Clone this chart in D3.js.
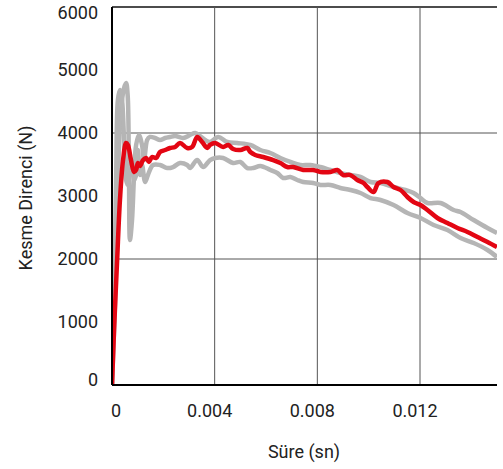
<!DOCTYPE html>
<html><head><meta charset="utf-8">
<script src="https://cdn.jsdelivr.net/npm/d3@7"></script>
<style>
html,body{margin:0;padding:0;background:#fff;}
svg{display:block;}
text{font-family:Roboto,"DejaVu Sans",sans-serif;fill:#222;}
</style></head>
<body><svg id="c" width="503" height="469"></svg>
<script>
// Time (s) and shear force (N)
const redT = [0,0.00008,0.0002,0.00031,0.00043,0.00055,0.00062,0.00074,0.00086,0.00094,0.00101,0.00109,0.00121,0.00133,0.00144,0.00156,0.00172,0.00187,0.00207,0.00226,0.00246,0.00265,0.00293,0.00312,0.00332,0.00351,0.00371,0.00382,0.00402,0.00433,0.00453,0.00472,0.005,0.00527,0.00539,0.00558,0.00589,0.00628,0.00656,0.00683,0.00706,0.00745,0.00784,0.00812,0.00851,0.00878,0.00901,0.00929,0.00956,0.0098,0.00995,0.01019,0.01038,0.01073,0.01097,0.01124,0.01151,0.01175,0.01202,0.01229,0.01268,0.01307,0.01346,0.01385,0.01424,0.01463,0.015];
const redV = [0,873,1984,2937,3571,3841,3810,3571,3381,3413,3524,3476,3571,3603,3540,3619,3603,3698,3730,3762,3778,3841,3762,3778,3937,3857,3762,3810,3841,3778,3810,3746,3730,3762,3698,3651,3619,3571,3524,3460,3460,3413,3413,3381,3381,3413,3333,3333,3254,3206,3143,3063,3206,3222,3143,3095,2984,2905,2857,2778,2651,2571,2492,2429,2349,2270,2190];

const g1T = [0,0.00012,0.00023,0.00035,0.00047,0.00055,0.00061,0.00066,0.0007,0.00078,0.00086,0.00094,0.00105,0.00117,0.00125,0.00137,0.00148,0.00168,0.00187,0.00207,0.00226,0.00246,0.00277,0.00304,0.00324,0.00343,0.00363,0.00382,0.00414,0.00449,0.00488,0.00539,0.00578,0.00617,0.00656,0.00695,0.00734,0.00773,0.00812,0.00851,0.0089,0.00929,0.00968,0.01007,0.01046,0.01097,0.01143,0.01175,0.01202,0.01229,0.0128,0.01331,0.01358,0.01409,0.01463,0.015];
const g1V = [0,1349,3254,4365,4714,4794,4603,3413,2302,2619,3333,3810,3968,3810,3571,3889,3937,3921,3889,3921,3937,3952,3921,3968,4000,3952,3889,3857,3937,3857,3841,3810,3730,3683,3603,3540,3492,3492,3460,3413,3365,3333,3302,3222,3206,3143,3095,3048,2968,2889,2889,2778,2746,2619,2492,2413];

const g2T = [0,0.00008,0.00016,0.00023,0.00031,0.00039,0.00047,0.00055,0.00062,0.0007,0.00078,0.00086,0.00094,0.00101,0.00109,0.00117,0.00129,0.0014,0.0016,0.00187,0.00215,0.00238,0.00265,0.00293,0.00304,0.00332,0.00355,0.00382,0.00402,0.00433,0.00472,0.005,0.00527,0.0055,0.00578,0.00617,0.00644,0.00667,0.00695,0.00722,0.00745,0.00784,0.00812,0.00851,0.0089,0.00929,0.00968,0.01007,0.01046,0.01097,0.01151,0.01202,0.01253,0.01307,0.01358,0.01409,0.01463,0.015];
const g2V = [0,1349,3254,4524,4683,4524,3889,3254,3175,3492,3571,3254,3333,3730,3333,3492,3222,3333,3492,3492,3444,3460,3524,3492,3444,3571,3460,3571,3603,3603,3524,3540,3444,3444,3476,3413,3365,3286,3302,3254,3222,3206,3175,3175,3127,3095,3048,2968,2937,2857,2730,2651,2540,2460,2333,2254,2143,2032];

const yTicks = [0,1000,2000,3000,4000,5000,6000];
const yGrid = [2000,4000,6000];
const xTicks = [0,0.004,0.008,0.012];
const xTickLabels = ["0","0.004","0.008","0.012"];
const xTitle = "Süre (sn)";
const yTitle = "Kesme Direnci (N)";

const svg = d3.select("#c");
const L = 112, R = 497, T = 7, B = 385;
const x = d3.scaleLinear().domain([0,0.015]).range([L,R]);
const y = d3.scaleLinear().domain([0,6000]).range([B,T]);

// grid
svg.append("g").selectAll("line").data(yGrid).join("line")
  .attr("x1",L).attr("x2",R).attr("y1",d=>y(d)).attr("y2",d=>y(d))
  .attr("stroke",d=>d===6000?"#111":"#555").attr("stroke-width",d=>d===6000?1.5:1);
svg.append("g").selectAll("line").data(xTicks.filter(d=>d>0)).join("line")
  .attr("x1",d=>x(d)).attr("x2",d=>x(d)).attr("y1",T).attr("y2",B)
  .attr("stroke","#555").attr("stroke-width",1);

const line = d3.line().x(d=>x(d[0])).y(d=>y(d[1])).curve(d3.curveCatmullRom.alpha(0.5));
const zip = (a,b)=>a.map((t,i)=>[t,b[i]]);
svg.append("clipPath").attr("id","cp").append("rect").attr("x",L).attr("y",0).attr("width",R-L).attr("height",B);
const lines = svg.append("g").attr("clip-path","url(#cp)");
[[g1T,g1V],[g2T,g2V]].forEach(([t,v])=>{
  lines.append("path").attr("d",line(zip(t,v))).attr("fill","none")
    .attr("stroke","#b5b5b5").attr("stroke-width",4.5).attr("stroke-linejoin","round");
});
lines.append("path").attr("d",line(zip(redT,redV))).attr("fill","none")
  .attr("stroke","#e30613").attr("stroke-width",4.5).attr("stroke-linejoin","round");

// axes
svg.append("line").attr("x1",L).attr("x2",L).attr("y1",T).attr("y2",B).attr("stroke","#000").attr("stroke-width",2);
svg.append("line").attr("x1",L).attr("x2",R).attr("y1",B).attr("y2",B).attr("stroke","#000").attr("stroke-width",2);

// y tick labels
svg.append("g").selectAll("text").data(yTicks).join("text")
  .attr("x",98).attr("y",d=>y(d) + (d===6000?6:(d===0?-5:0)))
  .attr("dy","0.36em").attr("text-anchor","end").attr("font-size",18)
  .text(d=>d);
// x tick labels
svg.append("g").selectAll("text").data(xTicks).join("text")
  .attr("x",(d,i)=>x(d) + (i===0?4:-5)).attr("y",417)
  .attr("text-anchor","middle").attr("font-size",18)
  .text((d,i)=>xTickLabels[i]);

svg.append("text").attr("x",304).attr("y",458).attr("text-anchor","middle").attr("font-size",18).text(xTitle);
svg.append("text").attr("transform","translate(32,198) rotate(-90)").attr("text-anchor","middle").attr("font-size",18).text(yTitle);
</script></body></html>
